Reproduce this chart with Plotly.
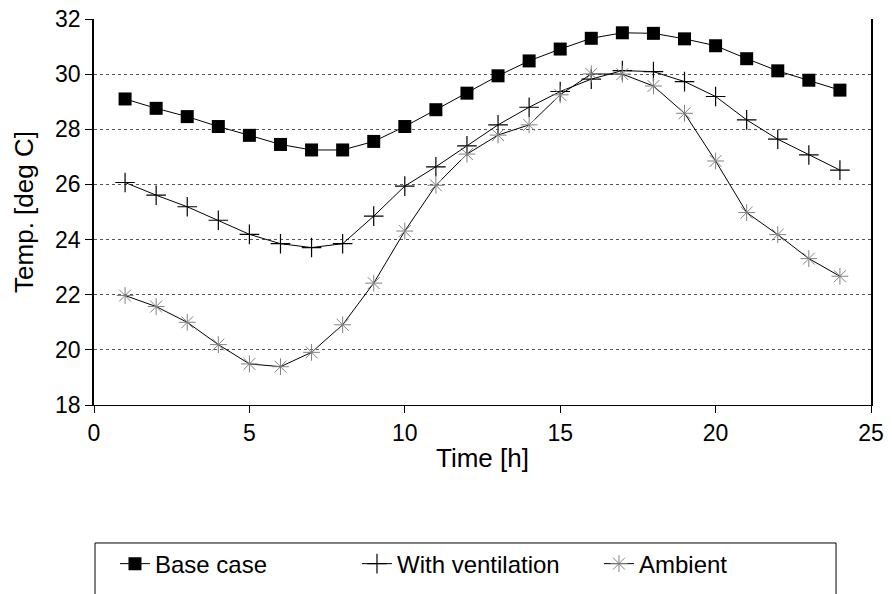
import plotly.graph_objects as go

hours = list(range(1, 25))
base_case = [29.1, 28.76, 28.46, 28.1, 27.78, 27.45, 27.25, 27.25, 27.56, 28.1, 28.71, 29.31,
             29.94, 30.48, 30.91, 31.3, 31.5, 31.48, 31.28, 31.03, 30.56, 30.12, 29.78, 29.42]
with_ventilation = [26.07, 25.61, 25.19, 24.7, 24.19, 23.85, 23.71, 23.85, 24.85, 25.94, 26.64, 27.4,
                    28.16, 28.8, 29.37, 29.82, 30.13, 30.09, 29.73, 29.19, 28.34, 27.64, 27.07, 26.52]
ambient = [21.97, 21.57, 21.0, 20.19, 19.49, 19.39, 19.91, 20.91, 22.42, 24.31, 25.97, 27.1,
           27.79, 28.16, 29.25, 30.01, 30.0, 29.57, 28.58, 26.85, 24.98, 24.18, 23.31, 22.67]

font = "Liberation Sans, Arial, Helvetica, sans-serif"

fig = go.Figure()
fig.add_trace(go.Scatter(
    x=hours, y=base_case, name="Base case", mode="lines+markers",
    line=dict(color="black", width=1),
    marker=dict(symbol="square", size=13, color="black"),
))
fig.add_trace(go.Scatter(
    x=hours, y=with_ventilation, name="With ventilation", mode="lines+markers",
    line=dict(color="black", width=1),
    marker=dict(symbol="cross-thin", size=14, line=dict(color="black", width=1.2)),
))
fig.add_trace(go.Scatter(
    x=hours, y=ambient, name="Ambient", mode="lines+markers",
    line=dict(color="black", width=1),
    marker=dict(symbol="asterisk", size=14, line=dict(color="#808080", width=1)),
))

fig.update_layout(
    width=892, height=594,
    margin=dict(l=94, r=21, t=19, b=189, autoexpand=False),
    paper_bgcolor="white", plot_bgcolor="white",
    font=dict(family=font, size=24, color="black"),
    showlegend=True,
    legend=dict(
        orientation="h", x=0.027, xanchor="left", y=-0.412, yanchor="middle",
        font=dict(size=24), bgcolor="rgba(0,0,0,0)", borderwidth=0,
        entrywidth=197, entrywidthmode="pixels",
    ),
    xaxis=dict(
        range=[0, 25], tickvals=[0, 5, 10, 15, 20, 25],
        showgrid=False, showline=True, linecolor="black", linewidth=1.2,
        ticks="outside", ticklen=7, tickcolor="black",
        tickfont=dict(size=23), automargin=False,
        title=dict(text="Time [h]", font=dict(size=26), standoff=4),
        zeroline=False,
    ),
    yaxis=dict(
        range=[18, 32], tickvals=[18, 20, 22, 24, 26, 28, 30, 32],
        showgrid=True, gridcolor="#555555", griddash="dot", gridwidth=1,
        showline=True, linecolor="black", linewidth=1.5, mirror=True,
        ticks="outside", ticklen=7, tickcolor="black",
        tickfont=dict(size=23), automargin=False,
        title=dict(text="Temp. [deg C]", font=dict(size=26), standoff=14),
        zeroline=False,
    ),
    shapes=[
        dict(type="rect", xref="paper", yref="paper",
             x0=0.0013, x1=0.955, y0=-0.53, y1=-0.3575,
             line=dict(color="black", width=1), fillcolor="rgba(0,0,0,0)",
             layer="below"),
    ],
)

fig.write_html("out.html")
